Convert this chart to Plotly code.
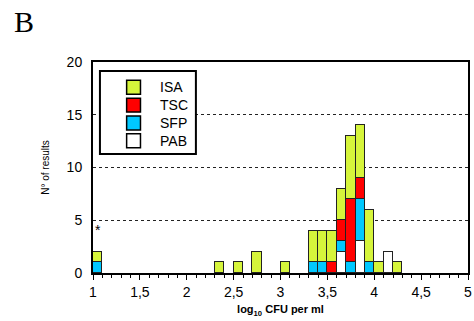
import plotly.graph_objects as go

# Histogram bins (lower edge, log10 CFU per ml), each 0.1 wide
bin_start = [1.0, 2.3, 2.5, 2.7, 3.0, 3.3, 3.4, 3.5, 3.6, 3.7, 3.8, 3.9, 4.0, 4.1, 4.2]
bin_width = 0.1

# Number of results per medium in each bin (stacked bottom to top: PAB, SFP, TSC, ISA)
pab = [0, 0, 0, 0, 0, 0, 0, 0, 2, 0, 3, 0, 0, 2, 0]
sfp = [1, 0, 0, 0, 0, 1, 1, 0, 1, 1, 4, 1, 0, 0, 0]
tsc = [0, 0, 0, 0, 0, 0, 0, 1, 2, 6, 2, 0, 0, 0, 0]
isa = [1, 1, 1, 2, 1, 3, 3, 3, 3, 6, 5, 5, 1, 0, 1]

x_ticks = [1, 1.5, 2, 2.5, 3, 3.5, 4, 4.5, 5]
x_tick_text = ["1", "1,5", "2", "2,5", "3", "3,5", "4", "4,5", "5"]
y_ticks = [0, 5, 10, 15, 20]

series = [
    ("PAB", pab, "#ffffff"),
    ("SFP", sfp, "#00c8ff"),
    ("TSC", tsc, "#ff0000"),
    ("ISA", isa, "#d6f53b"),
]

FONT = "Liberation Sans, Arial, sans-serif"

fig = go.Figure()
for name, counts, color in series:
    fig.add_trace(go.Bar(
        x=bin_start,
        y=counts,
        width=bin_width,
        offset=0,
        name=name,
        marker=dict(color=color, line=dict(color="#222222", width=1)),
    ))

# Boxed key in the upper-left corner of the plot, top entry = top of the stack
shapes = [dict(type="rect", xref="paper", yref="paper", layer="above",
               x0=0.0185, x1=0.2744, y0=0.564, y1=0.957,
               fillcolor="white", line=dict(color="black", width=2))]
annotations = []
key_top = 0.880      # centre of the first key row (paper y)
key_step = 0.0845    # distance between rows (paper y)
for i, (name, _, color) in enumerate(reversed(series)):
    yc = key_top - i * key_step
    shapes.append(dict(type="rect", xref="paper", yref="paper", layer="above",
                       x0=0.0897, x1=0.1266, y0=yc - 0.033, y1=yc + 0.033,
                       fillcolor=color, line=dict(color="black", width=1.5)))
    annotations.append(dict(x=0.1741, y=yc, xref="paper", yref="paper",
                            xanchor="left", yanchor="middle", text=name,
                            showarrow=False, font=dict(family=FONT, size=14)))

annotations += [
    dict(x=bin_start[0] + bin_width / 2, y=4.1, xref="x", yref="y",
         text="*", showarrow=False, font=dict(family=FONT, size=14)),
    dict(x=-0.215, y=1.278, xref="paper", yref="paper", xanchor="left", yanchor="top",
         text="B", showarrow=False,
         font=dict(family="Liberation Serif, Times New Roman, serif", size=30)),
]

fig.update_layout(
    width=474,
    height=321,
    margin=dict(l=93, r=2, t=62, b=48),
    barmode="stack",
    bargap=0,
    plot_bgcolor="white",
    paper_bgcolor="white",
    font=dict(family=FONT, size=14, color="black"),
    showlegend=False,
    xaxis=dict(
        range=[1, 5],
        tickvals=x_ticks,
        ticktext=x_tick_text,
        ticks="outside", ticklen=5, tickwidth=1, tickcolor="black",
        minor=dict(dtick=0.1, ticks="outside", ticklen=3, tickcolor="black", tickwidth=1),
        showline=True, linecolor="black", linewidth=2, mirror=True,
        showgrid=False, zeroline=False,
        ticklabeloverflow="allow",
        tickfont=dict(family=FONT, size=14),
        title=dict(text="<b>log<sub>10</sub> CFU per ml</b>",
                   font=dict(family=FONT, size=11), standoff=7),
    ),
    yaxis=dict(
        range=[0, 20],
        tickvals=y_ticks,
        ticks="",
        showline=True, linecolor="black", linewidth=2, mirror=True,
        showgrid=True, gridcolor="#222222", gridwidth=1, griddash="3px,3px",
        zeroline=False,
        tickfont=dict(family=FONT, size=14),
        ticklabelstandoff=6,
        title=dict(text="N° of results", font=dict(family=FONT, size=10), standoff=15),
    ),
    shapes=shapes,
    annotations=annotations,
)

fig.write_html("out.html")
